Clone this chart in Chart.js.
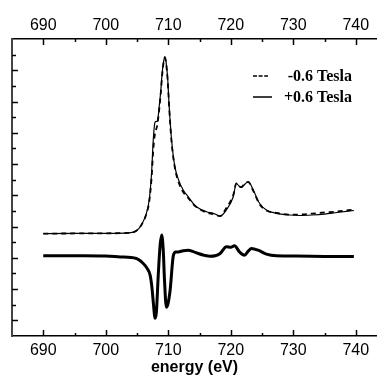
<!DOCTYPE html>
<html>
<head>
<meta charset="utf-8">
<script src="https://cdn.jsdelivr.net/npm/chart.js@4"></script>
<style>
  html, body { margin: 0; padding: 0; background: #fff; overflow: hidden; }
  canvas { display: block; }
</style>
</head>
<body>
<canvas id="xmcdChart" width="377" height="377"></canvas>
<script>
// energy grid shared by the two XAS spectra (eV)
const xasEnergy = [690, 695, 700, 703.6, 704.9, 705.7, 706.5, 706.95, 707.33, 707.6, 707.85, 708.05, 708.25, 708.55,
    708.82, 709.03, 709.25, 709.46, 709.65, 709.9, 710.15, 710.53, 711.06, 711.65, 712.39, 713.19, 713.98, 714.5,
    716.1, 717.2, 718.3, 719.3, 720.4, 720.9, 721.3, 721.7, 722.3, 722.8, 723.6, 724.6, 725.7, 727.3, 729.4, 731,
    733, 735, 737, 739.7];
// -0.6 Tesla (dashed)
const xasMinus = [6.55, 6.56, 6.57, 6.60, 6.73, 7.10, 7.80, 8.57, 10.1, 11.90, 12.87, 13.19, 13.51, 14.47,
    15.62, 16.71, 17.47, 17.80, 17.47, 16.39, 14.60, 12.42, 10.75, 9.85, 9.21, 8.83, 8.44, 8.25,
    7.90, 7.80, 7.67, 8.19, 9.02, 9.76, 9.56, 9.53, 9.79, 9.85, 9.28, 8.44, 8.03, 7.87, 7.77, 7.77,
    7.83, 7.90, 7.96, 8.09];
// +0.6 Tesla (solid)
const xasPlus = [6.55, 6.56, 6.57, 6.60, 6.73, 7.10, 7.85, 8.70, 10.41, 12.54, 13.63, 13.73, 13.72, 14.68,
    15.75, 16.84, 17.54, 17.87, 17.54, 16.52, 14.68, 12.54, 10.83, 9.99, 9.34, 8.91, 8.49, 8.27,
    7.95, 7.85, 7.67, 8.06, 8.91, 9.77, 9.60, 9.51, 9.72, 9.87, 9.34, 8.49, 8.06, 7.85, 7.74, 7.71,
    7.74, 7.80, 7.90, 8.03];

// difference spectrum (thick line)
const diffEnergy = [690, 695, 700, 702.3, 704.9, 706.0, 706.6, 707.1, 707.4, 707.6, 707.9, 708.1, 708.4, 708.7,
    708.95, 709.2, 709.4, 709.7, 709.9, 710.3, 710.8, 711.2, 711.6, 712.4, 713.2, 714.0, 714.8, 715.8, 716.7,
    717.5, 718.3, 719.3, 720.0, 720.6, 721.4, 722.2, 722.8, 723.3, 724.4, 725.7, 727.3, 730.5, 735, 739.7];
const diffValues = [5.14, 5.13, 5.11, 5.06, 4.96, 4.64, 4.34, 3.89, 3.06, 2.18, 1.13, 1.52, 3.89, 5.81,
    6.46, 5.49, 3.57, 1.84, 1.97, 2.93, 5.11, 5.37, 5.38, 5.46, 5.49, 5.40, 5.28, 5.16, 5.10,
    5.13, 5.28, 5.71, 5.67, 5.77, 5.38, 5.17, 5.43, 5.60, 5.49, 5.24, 5.13, 5.11, 5.09, 5.08];

const seriesLabels = ['-0.6 Tesla', '+0.6 Tesla'];

// axis ticks
const xTickLabels = [690, 700, 710, 720, 730, 740];
const xMinorTicks = [695, 705, 715, 725, 735];
const yMajorTicks = [1, 3, 5, 7, 9, 11, 13, 15, 17];
const yMinorTicks = [2, 4, 6, 8, 10, 12, 14, 16, 18];

const toPoints = (xs, ys) => xs.map((x, i) => ({ x: x, y: ys[i] }));

// ticks pointing into the plot, like the original
const inwardTicks = {
    id: 'inwardTicks',
    afterDraw(chart) {
        const { ctx, chartArea: a, scales } = chart;
        ctx.save();
        ctx.strokeStyle = '#000';
        ctx.lineWidth = 1.5;
        const seg = (x1, y1, x2, y2) => {
            ctx.beginPath();
            ctx.moveTo(x1, y1);
            ctx.lineTo(x2, y2);
            ctx.stroke();
        };
        const xt = (vals, len) => vals.forEach(v => {
            const px = Math.round(scales.x.getPixelForValue(v)) + 0.5;
            seg(px, a.bottom, px, a.bottom - len);
            seg(px, a.top, px, a.top + len);
        });
        xt(xTickLabels, 6);
        xt(xMinorTicks, 3);
        const yt = (vals, len) => vals.forEach(v => {
            const py = Math.round(scales.y.getPixelForValue(v)) + 0.5;
            seg(a.left, py, a.left + len, py);
        });
        yt(yMajorTicks, 6);
        yt(yMinorTicks, 4);
        ctx.restore();
    }
};

// legend drawn inside the plot
const insideLegend = {
    id: 'insideLegend',
    afterDraw(chart) {
        const ctx = chart.ctx;
        ctx.save();
        ctx.font = 'bold 16px "Liberation Serif", "Times New Roman", serif';
        ctx.fillStyle = '#000';
        ctx.textAlign = 'right';
        ctx.textBaseline = 'middle';
        const rows = [
            { ds: chart.data.datasets[0], y: 76, dash: [4, 1.6] },
            { ds: chart.data.datasets[1], y: 97, dash: [] }
        ];
        rows.forEach(r => {
            ctx.strokeStyle = '#000';
            ctx.lineWidth = 1.5;
            ctx.setLineDash(r.dash);
            ctx.beginPath();
            ctx.moveTo(253, r.y);
            ctx.lineTo(r.dash.length ? 268 : 272, r.y);
            ctx.stroke();
            ctx.setLineDash([]);
            ctx.fillText(r.ds.label, 352, r.y + 1);
        });
        ctx.restore();
    }
};

const axisFont = { family: '"Liberation Sans", Arial, sans-serif', size: 16 };

const ctx = document.getElementById('xmcdChart').getContext('2d');
const xmcdChart = new Chart(ctx, {
    type: 'line',
    data: {
        datasets: [{
            label: seriesLabels[0],
            data: toPoints(xasEnergy, xasMinus),
            borderColor: '#000',
            borderWidth: 1.8,
            borderDash: [5, 4]
        }, {
            label: seriesLabels[1],
            data: toPoints(xasEnergy, xasPlus),
            borderColor: '#000',
            borderWidth: 1.2
        }, {
            label: 'difference',
            data: toPoints(diffEnergy, diffValues),
            borderColor: '#000',
            borderWidth: 3
        }]
    },
    options: {
        responsive: false,
        animation: false,
        devicePixelRatio: 1,
        layout: { padding: 0 },
        elements: {
            point: { radius: 0 },
            line: { cubicInterpolationMode: 'monotone', fill: false }
        },
        plugins: {
            legend: { display: false },
            tooltip: { enabled: false }
        },
        scales: {
            x: {
                type: 'linear',
                position: 'bottom',
                min: 685,
                max: 743.4,
                afterBuildTicks: s => { s.ticks = xTickLabels.map(v => ({ value: v })); },
                afterFit: s => { s.height = 41; },
                grid: { drawOnChartArea: false, drawTicks: false },
                border: { color: '#000', width: 1.5 },
                ticks: { color: '#000', font: axisFont, padding: 5, maxRotation: 0, autoSkip: false },
                title: {
                    display: true,
                    text: 'energy (eV)',
                    color: '#000',
                    font: { family: axisFont.family, size: 16, weight: 'bold' },
                    padding: 0
                }
            },
            xTop: {
                type: 'linear',
                position: 'top',
                min: 685,
                max: 743.4,
                afterBuildTicks: s => { s.ticks = xTickLabels.map(v => ({ value: v })); },
                afterFit: s => { s.height = 39; },
                grid: { drawOnChartArea: false, drawTicks: false },
                border: { color: '#000', width: 1.5 },
                ticks: { color: '#000', font: axisFont, padding: 4, maxRotation: 0, autoSkip: false }
            },
            y: {
                type: 'linear',
                position: 'left',
                min: 0,
                max: 19,
                afterFit: s => { s.width = 12; },
                grid: { drawOnChartArea: false, drawTicks: false },
                border: { color: '#444', width: 2 },
                ticks: { display: false }
            }
        }
    },
    plugins: [inwardTicks, insideLegend]
});
</script>
</body>
</html>
